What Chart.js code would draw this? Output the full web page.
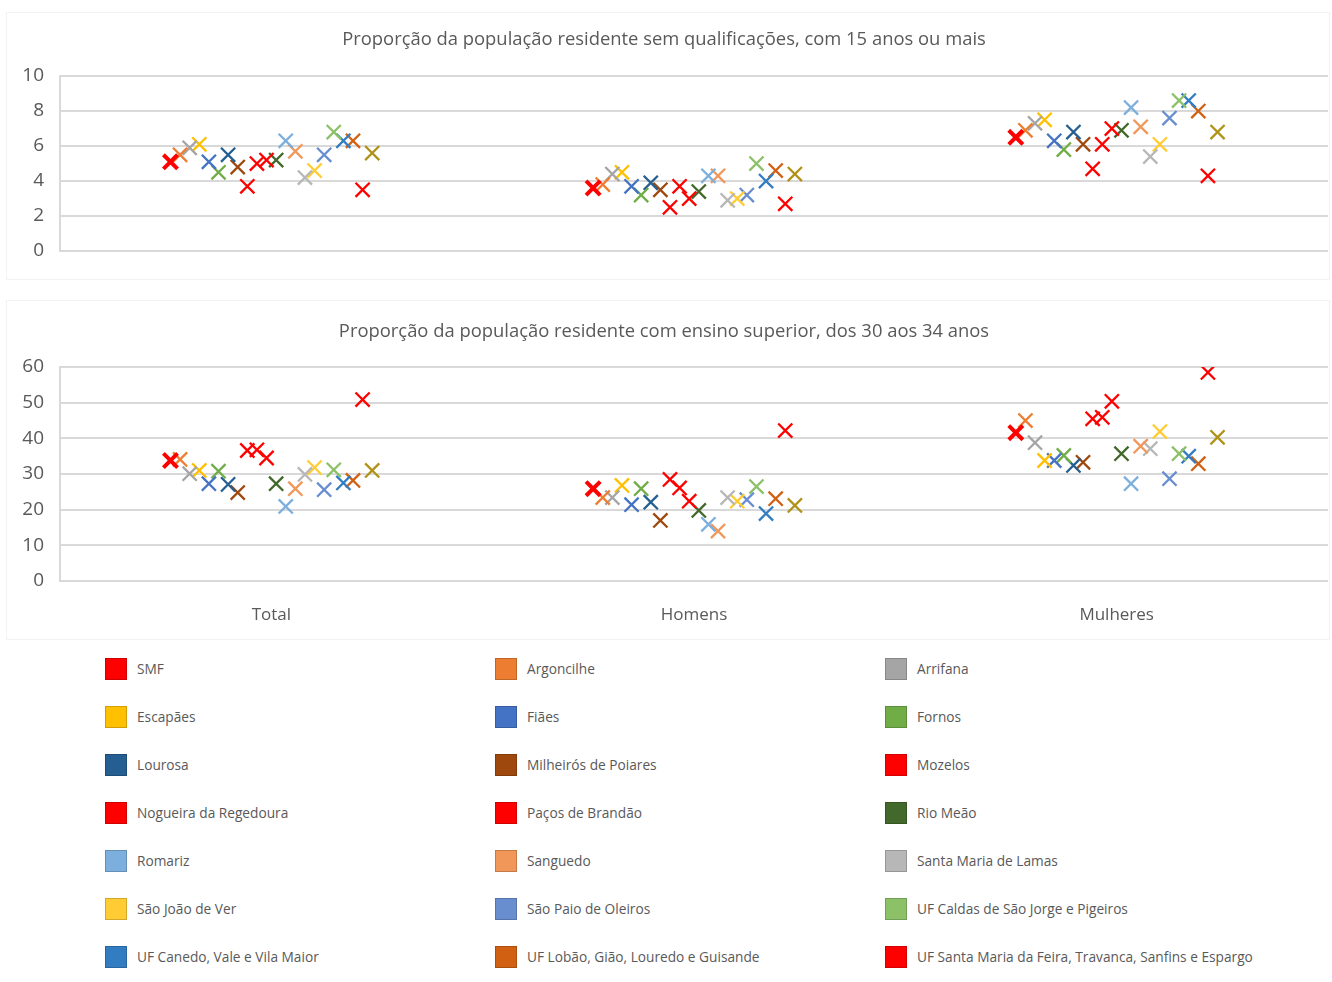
<!DOCTYPE html>
<html lang="pt">
<head>
<meta charset="utf-8">
<script src="https://cdn.jsdelivr.net/npm/chart.js@4.4.1/dist/chart.umd.min.js"></script>
<style>
  body { margin: 0; background: #fff; font-family: "Open Sans", sans-serif; }
  #page { position: relative; width: 1332px; height: 982px; overflow: hidden; }
  .panel { position: absolute; left: 6px; width: 1322px; border: 1px solid #f2f2f2; }
  #p1 { top: 12px; height: 266px; }
  #p2 { top: 300px; height: 338px; }
  canvas { position: absolute; left: 0; }
  #c1 { top: 0; }
  #c2 { top: 290px; }
  #legend { position: absolute; left: 105px; top: 658px; display: grid;
            grid-template-columns: 390px 390px 420px; grid-auto-rows: 48px; }
  .item { display: flex; align-items: flex-start; color: #595959; font-size: 13.7px; }
  .box { width: 20px; height: 20px; border: 1px solid rgba(0,0,0,0.18); margin-right: 10px; flex: none; }
  .item span { line-height: 22px; }
</style>
</head>
<body>
<div id="page">
  <div class="panel" id="p1"></div>
  <div class="panel" id="p2"></div>
  <canvas id="c1" width="1332" height="280"></canvas>
  <canvas id="c2" width="1332" height="350"></canvas>
  <div id="legend"></div>
</div>
<script>
const categories = ["Total", "Homens", "Mulheres"];

const seriesNames = [
  "SMF", "Argoncilhe", "Arrifana", "Escapães", "Fiães", "Fornos", "Lourosa",
  "Milheirós de Poiares", "Mozelos", "Nogueira da Regedoura", "Paços de Brandão",
  "Rio Meão", "Romariz", "Sanguedo", "Santa Maria de Lamas", "São João de Ver",
  "São Paio de Oleiros", "UF Caldas de São Jorge e Pigeiros", "UF Canedo, Vale e Vila Maior",
  "UF Lobão, Gião, Louredo e Guisande", "UF Santa Maria da Feira, Travanca, Sanfins e Espargo",
  "Série 22"
];
const seriesColors = [
  "#FF0000", "#ED7D31", "#A5A5A5", "#FFC000", "#4472C4", "#70AD47", "#255E91",
  "#9E480E", "#FF0000", "#FF0000", "#FF0000", "#43682B", "#7CAFDD", "#F1975A",
  "#B7B7B7", "#FFCD33", "#698ED0", "#8CC168", "#327DC2", "#D26012", "#FF0000",
  "#B09218"
];
const legendCount = 21; // the last series has no legend entry in the picture

// sem qualificações, 15+ anos (%)
const semQualTotal    = [5.1, 5.5, 5.9, 6.1, 5.1, 4.5, 5.5, 4.8, 3.7, 5.0, 5.2, 5.2, 6.3, 5.7, 4.2, 4.6, 5.5, 6.8, 6.3, 6.3, 3.5, 5.6];
const semQualHomens   = [3.6, 3.8, 4.4, 4.5, 3.7, 3.2, 3.9, 3.5, 2.5, 3.7, 3.0, 3.4, 4.3, 4.3, 2.9, 3.0, 3.2, 5.0, 4.0, 4.6, 2.7, 4.4];
const semQualMulheres = [6.5, 6.9, 7.3, 7.5, 6.3, 5.8, 6.8, 6.1, 4.7, 6.1, 7.0, 6.9, 8.2, 7.1, 5.4, 6.1, 7.6, 8.6, 8.6, 8.0, 4.3, 6.8];

// ensino superior, 30-34 anos (%)
const ensSupTotal    = [33.8, 34.1, 30.1, 31.0, 27.3, 30.8, 27.1, 24.8, 36.6, 36.8, 34.5, 27.3, 20.9, 25.9, 29.9, 31.8, 25.6, 31.2, 27.5, 28.2, 50.9, 31.0];
const ensSupHomens   = [25.9, 23.4, 23.4, 26.8, 21.4, 25.9, 22.1, 17.0, 28.5, 26.1, 22.4, 19.8, 15.9, 14.0, 23.4, 22.4, 22.8, 26.5, 18.9, 23.1, 42.2, 21.2];
const ensSupMulheres = [41.6, 45.0, 38.8, 33.8, 33.8, 35.2, 32.4, 33.3, 45.5, 45.9, 50.4, 35.7, 27.3, 37.8, 37.1, 41.9, 28.7, 35.7, 35.0, 32.9, 58.5, 40.3];

const yTicksTop = [0, 2, 4, 6, 8, 10];
const yTicksBottom = [0, 10, 20, 30, 40, 50, 60];

const TEXT = "#595959";
const GRID = "#d9d9d9";

// each series sits at its own slot inside the category (clustered look)
function slot(i) {
  const n = seriesNames.length;
  return (i - (n - 1) / 2) * (0.5 / n);
}

function buildDatasets(groups) {
  return seriesNames.map((name, i) => ({
    label: name,
    data: groups.map((g, c) => ({ x: c + slot(i), y: g[i] })),
    showLine: false,
    pointStyle: "crossRot",
    pointRadius: 10,
    pointHoverRadius: 10,
    borderColor: seriesColors[i],
    backgroundColor: seriesColors[i],
    pointBorderWidth: i === 0 ? 4 : 2.3
  }));
}

function makeChart(id, title, groups, yTicks, showX, pad) {
  return new Chart(document.getElementById(id), {
    type: "scatter",
    data: { datasets: buildDatasets(groups) },
    options: {
      responsive: false,
      animation: false,
      layout: { autoPadding: false, padding: { left: 0, right: 4, bottom: pad.bottom } },
      plugins: {
        legend: { display: false },
        tooltip: { enabled: false },
        title: {
          display: true, text: title, color: TEXT,
          font: { family: "Open Sans", size: 18.4, weight: "normal" },
          padding: { top: pad.titleTop, bottom: pad.titleBottom }
        }
      },
      scales: {
        x: {
          type: "linear", min: -0.5, max: 2.5,
          display: showX,
          grid: { display: false },
          border: { display: false },
          afterBuildTicks: s => { s.ticks = categories.map((c, k) => ({ value: k })); },
          afterFit: s => { if (showX) s.height = pad.xHeight; },
          ticks: {
            color: TEXT, padding: 16,
            font: { family: "Open Sans", size: 17 },
            callback: v => categories[v]
          }
        },
        y: {
          min: yTicks[0], max: yTicks[yTicks.length - 1],
          afterBuildTicks: s => { s.ticks = yTicks.map(v => ({ value: v })); },
          afterFit: s => { s.width = 60; },
          grid: { color: GRID, lineWidth: 2, drawTicks: false },
          border: { display: true, color: GRID, width: 2 },
          ticks: {
            color: TEXT, padding: 16,
            font: { family: "Open Sans", size: 19 }
          }
        }
      }
    }
  });
}

makeChart("c1", "Proporção da população residente sem qualificações, com 15 anos ou mais",
  [semQualTotal, semQualHomens, semQualMulheres], yTicksTop, false,
  { titleTop: 29, titleBottom: 25, bottom: 29 });

makeChart("c2", "Proporção da população residente com ensino superior, dos 30 aos 34 anos",
  [ensSupTotal, ensSupHomens, ensSupMulheres], yTicksBottom, true,
  { titleTop: 31, titleBottom: 24, bottom: 0, xHeight: 59 });

const legend = document.getElementById("legend");
seriesNames.slice(0, legendCount).forEach((name, i) => {
  const item = document.createElement("div");
  item.className = "item";
  item.innerHTML = `<div class="box" style="background:${seriesColors[i]}"></div><span>${name}</span>`;
  legend.appendChild(item);
});
</script>
</body>
</html>
